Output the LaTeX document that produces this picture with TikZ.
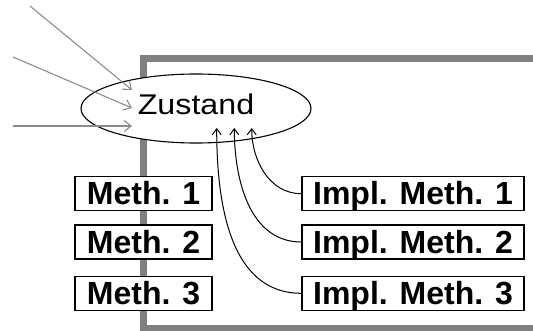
\documentclass[tikz,border=0pt]{standalone}
\usepackage{fontspec}
\setmainfont{Liberation Sans}
\usetikzlibrary{shapes.geometric,arrows.meta}
\definecolor{framegray}{RGB}{128,128,128}
\definecolor{arrowgray}{RGB}{140,140,140}
\tikzset{
  methbox/.style={draw=black,line width=1.4pt,fill=white,inner sep=0pt,
    minimum height=34pt,text height=22.5pt,text depth=0pt,
    font=\fontsize{32}{32}\selectfont\bfseries},
  statenode/.style={ellipse,draw=black,line width=1.1pt,fill=white,inner sep=0pt,
    minimum width=230pt,minimum height=69pt,text height=20pt,text depth=7pt,
    font=\fontsize{28.5}{28.5}\selectfont},
  inarrow/.style={draw=arrowgray,line width=1.1pt,-{Straight Barb[length=7pt,width=11pt]}},
  implarrow/.style={draw=black,line width=1pt,-{Straight Barb[length=6pt,width=9pt]}},
  framestyle/.style={draw=framegray,line width=6.5pt}
}
\begin{document}
\begin{tikzpicture}[x=1pt,y=-1pt]
\useasboundingbox (0,0) rectangle (533,331);
\draw[framestyle] (540,58.5) -- (143.4,58.5) -- (143.4,328) -- (540,328);
\node[statenode] (z) at (196,108.5) {\scalebox{1.13}[1]{Zustand}};
\node[methbox,minimum width=137pt] (m1) at (143.5,193.7) {Meth. 1};
\node[methbox,minimum width=137pt] (m2) at (143.5,242) {Meth. 2};
\node[methbox,minimum width=137pt] (m3) at (143.5,293.3) {Meth. 3};
\node[methbox,minimum width=222pt] (i1) at (413,193.7) {Impl. Meth. 1};
\node[methbox,minimum width=222pt] (i2) at (413,242) {Impl. Meth. 2};
\node[methbox,minimum width=222pt] (i3) at (413,293.3) {Impl. Meth. 3};
\coordinate (s1) at (30,6);
\coordinate (s2) at (13,57);
\coordinate (s3) at (13,126);
\coordinate (e1) at (132,90);
\coordinate (e2) at (132,108);
\coordinate (e3) at (132,126);
\draw[inarrow] (s1) -- (e1);
\draw[inarrow] (s2) -- (e2);
\draw[inarrow] (s3) -- (e3);
\coordinate (t1) at (251.7,128);
\coordinate (t2) at (234.3,128);
\coordinate (t3) at (216.7,128);
\draw[implarrow] (i1.west) to[out=180,in=-90] (t1);
\draw[implarrow] (i2.west) to[out=180,in=-90] (t2);
\draw[implarrow] (i3.west) to[out=180,in=-90] (t3);
\end{tikzpicture}
\end{document}
